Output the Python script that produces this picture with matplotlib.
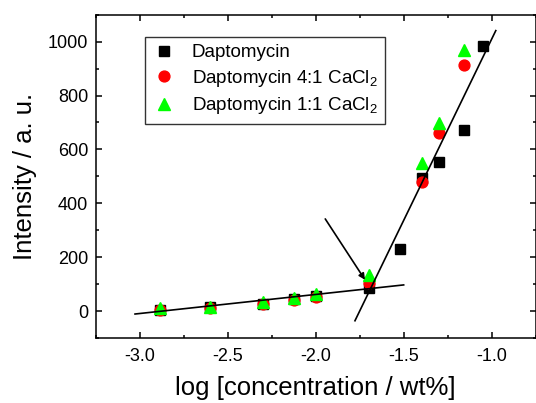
import numpy as np
import matplotlib
matplotlib.use("Agg")
import matplotlib.pyplot as plt
from matplotlib.ticker import MultipleLocator

plt.rcParams['font.family'] = ['Liberation Sans', 'DejaVu Sans']
plt.rcParams['mathtext.fontset'] = 'custom'
plt.rcParams['mathtext.rm'] = 'Liberation Sans'

# log concentration (wt%)
x_dap = [-2.886, -2.602, -2.301, -2.125, -2.0, -1.699, -1.523, -1.398, -1.301, -1.155, -1.046]
y_dap = [5, 14, 28, 44, 55, 84, 232, 493, 553, 673, 985]

x_ca41 = [-2.886, -2.602, -2.301, -2.125, -2.0, -1.699, -1.398, -1.301, -1.155]
y_ca41 = [4, 11, 26, 41, 53, 105, 480, 660, 914]

x_ca11 = [-2.886, -2.602, -2.301, -2.125, -2.0, -1.699, -1.398, -1.301, -1.155]
y_ca11 = [12, 16, 32, 47, 62, 134, 551, 698, 970]

# fitted lines (end points)
fit_low_x = [-3.028, -1.50]
fit_low_y = [-11, 97]
fit_high_x = [-1.777, -0.976]
fit_high_y = [-36, 1041]

# arrow marking the CMC
arrow_start = (-1.946, 342)
arrow_end = (-1.72, 116)

fig = plt.figure(figsize=(5.36, 4.03), dpi=100)
ax = fig.add_axes([0.1791, 0.1613, 0.8200, 0.8022])

ax.plot(x_dap, y_dap, 's', color='black', markersize=6.8, label='Daptomycin', zorder=3)
ax.plot(x_ca41, y_ca41, 'o', color='#ff0000', markersize=7.8, label='Daptomycin 4:1 CaCl$_2$', zorder=4)
ax.plot(x_ca11, y_ca11, '^', color='#00ff00', markersize=8.5, label='Daptomycin 1:1 CaCl$_2$', zorder=5)

ax.plot(fit_low_x, fit_low_y, '-', color='black', lw=1.2, zorder=6)
ax.plot(fit_high_x, fit_high_y, '-', color='black', lw=1.2, zorder=6)
ax.annotate('', xy=arrow_end, xytext=arrow_start,
            arrowprops=dict(arrowstyle='-|>', color='black', lw=1.2,
                            mutation_scale=9, shrinkA=0, shrinkB=0), zorder=7)

ax.set_xlim(-3.25, -0.75)
ax.set_ylim(-100, 1100)
ax.xaxis.set_major_locator(MultipleLocator(0.5))
ax.xaxis.set_minor_locator(MultipleLocator(0.25))
ax.yaxis.set_major_locator(MultipleLocator(200))
ax.yaxis.set_minor_locator(MultipleLocator(100))
ax.xaxis.set_major_formatter(plt.FuncFormatter(lambda v, p: f"{v:.1f}"))

ax.tick_params(which='both', direction='in', top=True, right=True, labelsize=13, width=1.1)
ax.tick_params(which='major', length=4.5)
ax.tick_params(which='minor', length=2.5)
ax.tick_params(axis='y', pad=5.5)
ax.tick_params(axis='x', pad=7)
for s in ax.spines.values():
    s.set_linewidth(1.1)

ax.set_xlabel('log [concentration / wt%]', fontsize=18.5, labelpad=8)
ax.set_ylabel('Intensity / a. u.', fontsize=18.5, labelpad=8)

leg = ax.legend(loc='upper left', bbox_to_anchor=(0.111, 0.932), borderaxespad=0,
                fontsize=13.5, frameon=True, fancybox=False, edgecolor='black',
                handlelength=1.2, handletextpad=0.9, borderpad=0.4, labelspacing=0.35)
leg.get_frame().set_linewidth(1.0)

fig.savefig('out.png', dpi=100)
